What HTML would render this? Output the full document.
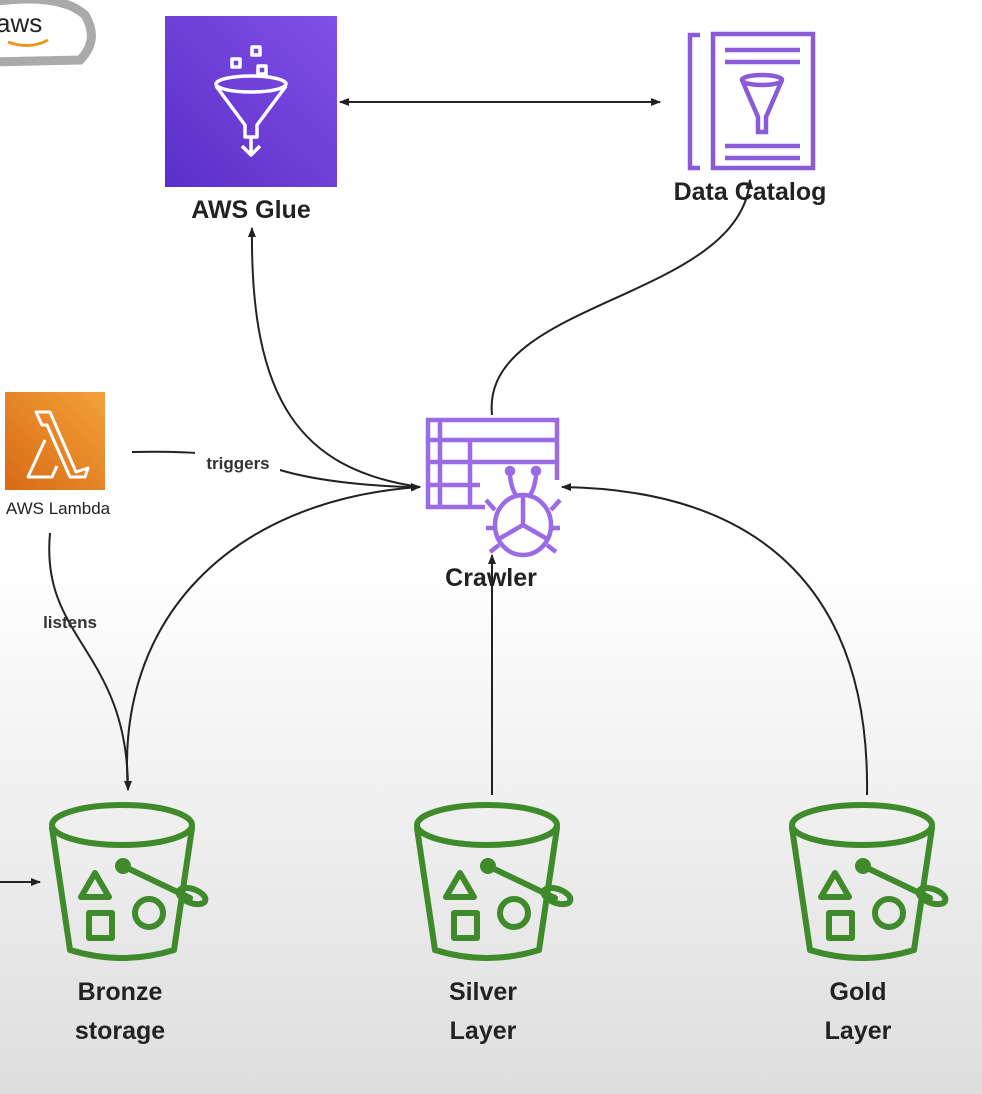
<!DOCTYPE html>
<html><head><meta charset="utf-8"><style>
html,body{margin:0;padding:0;}
body{width:982px;height:1094px;overflow:hidden;background:linear-gradient(#fff 0px,#fff 560px,#dedede 1094px);font-family:"Liberation Sans",sans-serif;}
svg{position:absolute;left:0;top:0}
</style></head><body>
<svg width="982" height="1094" viewBox="0 0 982 1094">
<defs>
<marker id="a" markerWidth="10" markerHeight="10" refX="9" refY="5" orient="auto" markerUnits="userSpaceOnUse"><path d="M0,1 L10,5 L0,9 Z" fill="#222"/></marker>
<marker id="s" markerWidth="10" markerHeight="10" refX="1" refY="5" orient="auto" markerUnits="userSpaceOnUse"><path d="M10,1 L0,5 L10,9 Z" fill="#222"/></marker>
<linearGradient id="pg" x1="0" y1="1" x2="1" y2="0"><stop offset="0" stop-color="#5a2fc9"/><stop offset="1" stop-color="#8150e6"/></linearGradient>
<linearGradient id="og" x1="0" y1="1" x2="1" y2="0"><stop offset="0" stop-color="#d86a14"/><stop offset="1" stop-color="#f2a13a"/></linearGradient>
<g id="bk" fill="none" stroke="#3f8a2a" stroke-width="6" stroke-linecap="round" stroke-linejoin="round">
<ellipse cx="72" cy="25" rx="70" ry="20"/>
<path d="M2,28 L20,150 Q72,166 124,150 L142,28"/>
<circle cx="73" cy="66" r="5" fill="#3f8a2a"/>
<path d="M73,66 L140,98"/>
<ellipse cx="142" cy="96" rx="14" ry="7" transform="rotate(20 142 96)"/>
<path d="M45,73 L31,97 L59,97 Z"/>
<rect x="39" y="113" width="23" height="25"/>
<circle cx="99" cy="113" r="14"/>
</g>
</defs>
<path d="M-10,2 Q60,-8 85,15 Q100,40 80,60 L-10,62" fill="none" stroke="#aaa" stroke-width="9"/>
<text x="-4" y="32" font-size="26" fill="#222">aws</text>
<path d="M8,42 Q30,50 48,40" fill="none" stroke="#e89a1e" stroke-width="3"/>
<rect x="165" y="16" width="172" height="171" fill="url(#pg)"/>
<g fill="none" stroke="#fff" stroke-width="3.5" stroke-linejoin="round">
<rect x="232" y="59" width="8" height="8"/><rect x="252" y="47" width="8" height="8"/><rect x="258" y="66" width="8" height="8"/>
<ellipse cx="251" cy="84" rx="35" ry="8"/>
<path d="M216,86 L245,125 L245,137 L257,137 L257,125 L286,86"/>
<path d="M251,137 L251,155 M242,146 L251,155 L260,146"/>
</g>
<text x="251" y="218" font-size="25" font-weight="bold" text-anchor="middle" fill="#222">AWS Glue</text>
<g fill="none" stroke="#8a5ad9" stroke-width="4.5">
<path d="M700,35 L690,35 L690,168 L700,168"/>
<rect x="713" y="34" width="100" height="134"/>
<path d="M725,50 L800,50 M725,62 L800,62 M725,146 L800,146 M725,158 L800,158"/>
<ellipse cx="762" cy="80" rx="20" ry="5"/>
<path d="M742,80 L758,117 L758,132 L766,132 L766,117 L782,80"/>
</g>
<text x="750" y="200" font-size="25" font-weight="bold" text-anchor="middle" fill="#222">Data Catalog</text>
<g fill="none" stroke="#9b6be6" stroke-width="4.5">
<path d="M485,507 L428,507 L428,420 L557,420 L557,480"/>
<path d="M428,440 L557,440 M428,462 L557,462 M428,485 L480,485 M440,420 L440,507 M470,440 L470,507"/>
<ellipse cx="523" cy="525" rx="28" ry="30"/>
<path d="M523,497 L523,525 L497,540 M523,525 L549,540"/>
<path d="M510,476 Q512,492 518,497 M536,476 Q534,492 528,497"/>
<circle cx="510" cy="471" r="3" fill="#9b6be6"/><circle cx="536" cy="471" r="3" fill="#9b6be6"/>
<path d="M495,510 L486,500 M551,510 L560,500 M495,528 L486,528 M551,528 L560,528 M499,545 L490,552 M547,545 L556,552"/>
</g>
<text x="491" y="586" font-size="25" font-weight="bold" text-anchor="middle" fill="#222">Crawler</text>
<rect x="5" y="392" width="100" height="98" fill="url(#og)"/>
<path d="M36,412 L50,412 L76,472 L88,468 L85,477 L70,477 L47,425 L42,425 Z M45,440 L28,477 L52,477 L57,466" fill="none" stroke="#fff" stroke-width="3" stroke-linejoin="round"/>
<text x="58" y="514" font-size="17" text-anchor="middle" fill="#222">AWS Lambda</text>
<g fill="none" stroke="#222" stroke-width="2">
<path d="M340,102 L660,102" marker-start="url(#s)" marker-end="url(#a)"/>
<path d="M492,415 C480,300 740,300 750,180" marker-end="url(#a)"/>
<path d="M420,487 C300,470 250,400 252,228" marker-end="url(#a)"/>
<path d="M132,452 C220,450 260,460 280,470 C320,482 380,487 420,487" marker-end="url(#a)"/>
<path d="M128,790 C115,620 230,500 420,487" marker-end="url(#a)"/>
<path d="M50,533 C40,640 128,650 128,790" marker-end="url(#a)"/>
<path d="M492,795 L492,555" marker-end="url(#a)"/>
<path d="M867,795 C870,600 770,490 562,487" marker-end="url(#a)"/>
<path d="M0,882 L40,882" marker-end="url(#a)"/>
</g>
<rect x="195" y="452" width="85" height="24" fill="#fff"/>
<text x="238" y="469" font-size="17" font-weight="bold" text-anchor="middle" fill="#333">triggers</text>
<text x="70" y="628" font-size="17" font-weight="bold" text-anchor="middle" fill="#333">listens</text>
<use href="#bk" x="50" y="800"/>
<use href="#bk" x="415" y="800"/>
<use href="#bk" x="790" y="800"/>
<g font-size="25" font-weight="bold" text-anchor="middle" fill="#222">
<text x="120" y="1000">Bronze</text><text x="120" y="1039">storage</text>
<text x="483" y="1000">Silver</text><text x="483" y="1039">Layer</text>
<text x="858" y="1000">Gold</text><text x="858" y="1039">Layer</text>
</g>
</svg>
</body></html>
